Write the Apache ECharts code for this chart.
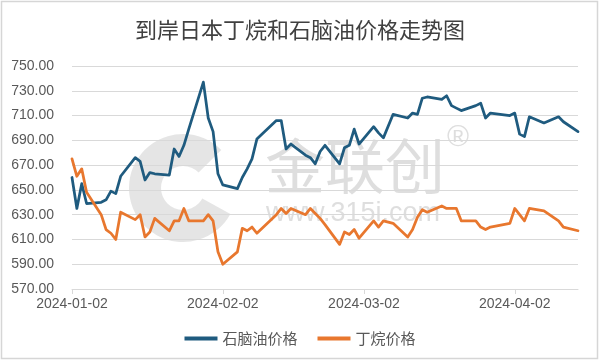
<!DOCTYPE html>
<html>
<head>
<meta charset="utf-8">
<script src="https://cdn.jsdelivr.net/npm/echarts@6/dist/echarts.min.js"></script>
<style>html,body{margin:0;padding:0;background:#fff;}#c{width:600px;height:362px;}</style>
</head>
<body>
<div id="c"></div>
<script>
const dates = ['2024-01-02','2024-01-03','2024-01-04','2024-01-05','2024-01-08','2024-01-09','2024-01-10','2024-01-11','2024-01-12',
'2024-01-15','2024-01-16','2024-01-17','2024-01-18','2024-01-19','2024-01-22','2024-01-23','2024-01-24','2024-01-25','2024-01-26',
'2024-01-29','2024-01-30','2024-01-31','2024-02-01','2024-02-02','2024-02-05','2024-02-06','2024-02-07','2024-02-08','2024-02-09',
'2024-02-13','2024-02-14','2024-02-15','2024-02-16','2024-02-19','2024-02-20','2024-02-21','2024-02-22','2024-02-23',
'2024-02-26','2024-02-27','2024-02-28','2024-02-29','2024-03-01','2024-03-04','2024-03-05','2024-03-06','2024-03-08',
'2024-03-11','2024-03-12','2024-03-13','2024-03-14','2024-03-15','2024-03-18','2024-03-19','2024-03-20','2024-03-21','2024-03-22',
'2024-03-25','2024-03-26','2024-03-27','2024-03-28','2024-04-01','2024-04-02','2024-04-03','2024-04-04','2024-04-05',
'2024-04-08','2024-04-11','2024-04-12','2024-04-15'];
const naphtha = [660,635,655,639,640,642,649,647,661,
676,673,658,664,663,662,683,677,686,699,
737,708,697,663,654,651,660,667,675,691,
706,706,683,687,678,676,671,681,686,
671,684,686,699,687,701,696,692,711,
708,712,711,724,725,723,726,718,716,714,
718,720,708,712,710,712,695,693,709,
704,709,705,697];
const butane = [675,661,667,648,630,618,615,610,632,
626,630,612,616,627,617,625,625,635,625,
625,630,625,600,590,600,619,617,620,615,
630,635,631,635,630,635,631,627,622,
606,616,614,618,611,625,620,625,623,
612,618,628,634,632,637,635,635,635,625,
625,620,618,620,623,635,630,625,635,
633,625,620,617];
const tickDates = ['2024-01-02','2024-02-02','2024-03-02','2024-04-02'];
const xStart = '2024-01-02', xEnd = '2024-04-15';
const yMin = 570, yMax = 750, yStep = 20;
const seriesNames = ['石脑油价格','丁烷价格'];

function ts(s){const p=s.split('-');return new Date(+p[0],+p[1]-1,+p[2]).getTime();}
function pad(n){return n<10?'0'+n:''+n;}
function fmt(v){const d=new Date(v);return d.getFullYear()+'-'+pad(d.getMonth()+1)+'-'+pad(d.getDate());}

const chart = echarts.init(document.getElementById('c'));
const FONT = '"Noto Sans CJK SC", "Noto Sans", sans-serif';
chart.setOption({
  animation:false,
  textStyle:{fontFamily:FONT},
  title:{text:'到岸日本丁烷和石脑油价格走势图',left:'center',top:14,
    textStyle:{fontSize:22,fontWeight:'normal',color:'#404040',fontFamily:FONT}},
  graphic:[
    {type:'rect',z:-10,shape:{x:1.5,y:1.5,width:596,height:357},style:{fill:'none',stroke:'#d6d6d6',lineWidth:1.5},silent:true},
    {type:'sector',z:-5,shape:{cx:183,cy:188,r:54,r0:22,startAngle:0.5,endAngle:5.5,clockwise:true},style:{fill:'rgba(175,175,175,0.32)'},silent:true},
    {type:'text',z:-5,left:265,top:136,style:{text:'金联创',font:'60px "Noto Sans CJK SC"',fill:'rgba(160,160,160,0.35)'},silent:true},
    {type:'text',z:-5,left:447,top:123,style:{text:'®',font:'30px "Liberation Sans"',fill:'rgba(160,160,160,0.35)'},silent:true},
    {type:'text',z:-5,left:266,top:200,style:{text:'www.315i.com',font:'27px "Liberation Sans"',fill:'rgba(160,160,160,0.35)'},silent:true}
  ],
  legend:{left:'center',top:326,icon:'rect',itemWidth:33,itemHeight:4,itemGap:20,
    textStyle:{fontSize:15,color:'#595959',fontFamily:FONT},data:seriesNames},
  grid:{left:72,right:22,top:66,bottom:73},
  xAxis:{type:'value',min:ts(xStart),max:ts(xEnd),scale:true,
    axisLine:{show:true,lineStyle:{color:'#d9d9d9',width:1}},
    axisTick:{show:true,length:5,lineStyle:{color:'#d9d9d9'},customValues:tickDates.map(ts)},
    axisLabel:{customValues:tickDates.map(ts),formatter:function(v){return fmt(v);},
      color:'#595959',fontSize:14,margin:8,fontFamily:'"Liberation Sans", sans-serif'},
    splitLine:{show:false}},
  yAxis:{type:'value',min:yMin,max:yMax,interval:yStep,
    axisLine:{show:false},axisTick:{show:false},
    axisLabel:{formatter:function(v){return v.toFixed(2);},color:'#595959',fontSize:14,margin:18,fontFamily:'"Liberation Sans", sans-serif'},
    splitLine:{lineStyle:{color:'#d9d9d9',width:1}}},
  series:[
    {name:seriesNames[0],type:'line',showSymbol:false,symbol:'none',color:'#1f5b7f',
      lineStyle:{width:2.75,color:'#1f5b7f',cap:'round',join:'round'},
      data:dates.map((d,i)=>[ts(d),naphtha[i]])},
    {name:seriesNames[1],type:'line',showSymbol:false,symbol:'none',color:'#e8772e',
      lineStyle:{width:2.75,color:'#e8772e',cap:'round',join:'round'},
      data:dates.map((d,i)=>[ts(d),butane[i]])}
  ]
});
</script>
</body>
</html>
